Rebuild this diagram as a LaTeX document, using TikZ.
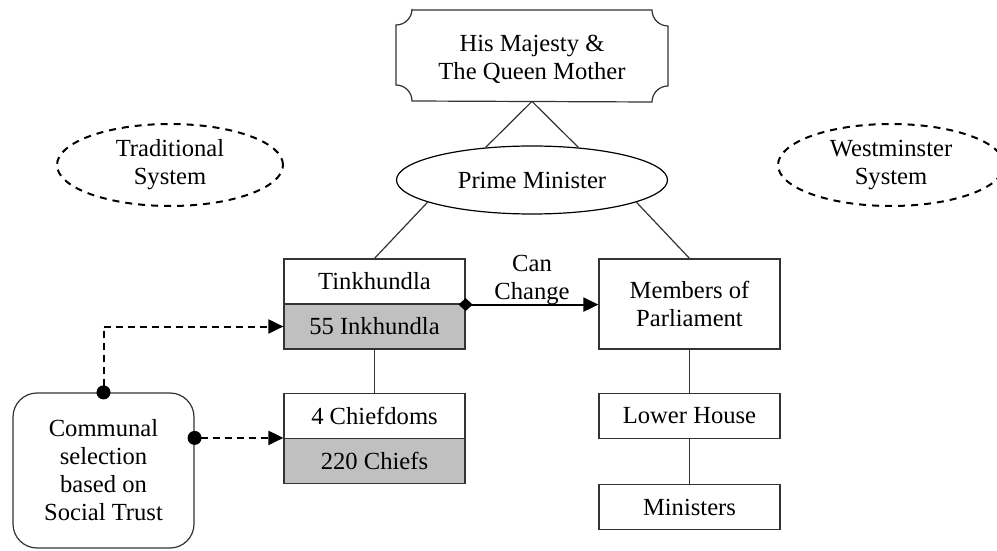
\documentclass[tikz,border=0pt]{standalone}
\usepackage{fontspec}
\setmainfont{Liberation Serif}
\usetikzlibrary{shapes.geometric,arrows.meta}
\definecolor{boxgrey}{RGB}{192,192,192}
\begin{document}
\begin{tikzpicture}[x=0.5pt,y=-0.5pt,
  font=\fontsize{12.3}{14}\selectfont,
  thinline/.style={line width=0.6pt, draw=black!80},
  boxnode/.style={rectangle, thinline, minimum width=90.5pt, minimum height=22.5pt, inner sep=0pt, align=center},
  greybox/.style={boxnode, fill=boxgrey},
  ovalnode/.style={ellipse, thinline, draw=black, inner sep=0pt, align=center},
  dashoval/.style={ellipse, draw=black, line width=1pt, dash pattern=on 3.5pt off 3pt, minimum width=113pt, minimum height=41pt, inner sep=0pt, align=center},
  conn/.style={thinline},
  dasharrow/.style={line width=1pt, dash pattern=on 3.5pt off 2.5pt, shorten <=-3.5pt, {Circle[length=7pt]}-{Triangle[length=7.5pt,width=7pt]}},
]
\useasboundingbox (0,0) rectangle (997,551);

% king plaque
\draw[thinline] (412,10) -- (652,10) arc[start angle=180,end angle=270,radius=8pt]
  -- (668,86) arc[start angle=90,end angle=180,radius=8pt]
  -- (412,101) arc[start angle=0,end angle=90,radius=8pt]
  -- (396,25) arc[start angle=270,end angle=360,radius=8pt] -- cycle;
\node[minimum width=135.5pt, minimum height=45.5pt, inner sep=0pt, align=center] (king) at (532,55.5) {};
\node[align=center] (kingtext) at (532,59) {His Majesty \&\\The Queen Mother};

\node[ovalnode, minimum width=135.5pt, minimum height=34pt] (pm) at (532,180) {Prime Minister};

\node[dashoval] (trad) at (170,165) {Traditional\\System};
\node[dashoval] (west) at (891,165) {Westminster\\System};

\node[boxnode] (tink) at (374.5,281.5) {Tinkhundla};
\node[greybox] (inkh) at (374.5,326.5) {55 Inkhundla};
\node[boxnode] (chiefdoms) at (374.5,416) {4 Chiefdoms};
\node[greybox] (chiefs) at (374.5,461) {220 Chiefs};

\node[boxnode, minimum height=45pt] (mp) at (689.5,304) {Members of\\Parliament};
\node[boxnode] (lower) at (689.5,416) {Lower House};
\node[boxnode] (ministers) at (689.5,507) {Ministers};

\node[rectangle, thinline, rounded corners=12pt, minimum width=90.5pt, minimum height=77.5pt, inner sep=0pt, align=center] (comm) at (103.5,470.5) {Communal\\selection\\based on\\Social Trust};

% connectors
\draw[conn] (king.south) -- (pm.145);
\draw[conn] (king.south) -- (pm.35);
\draw[conn] (pm.192) -- (tink.north);
\draw[conn] (pm.-12) -- (mp.north);
\draw[conn] (inkh.south) -- (chiefdoms.north);
\draw[conn] (mp.south) -- (lower.north);
\draw[conn] (lower.south) -- (ministers.north);

\draw[line width=1pt, shorten <=-3.5pt, {Diamond[length=7pt,width=6.5pt]}-{Triangle[length=7.5pt,width=7pt]}]
  (tink.south east) -- (tink.south east -| mp.west)
  node[pos=0.5, yshift=12.5pt, align=center] (cc) {Can\\Change};

\draw[dasharrow] (comm.north) -- (comm.north |- inkh.west) -- (inkh.west);
\draw[dasharrow] (comm.east |- chiefs.north west) -- (chiefs.north west);
\end{tikzpicture}
\end{document}
